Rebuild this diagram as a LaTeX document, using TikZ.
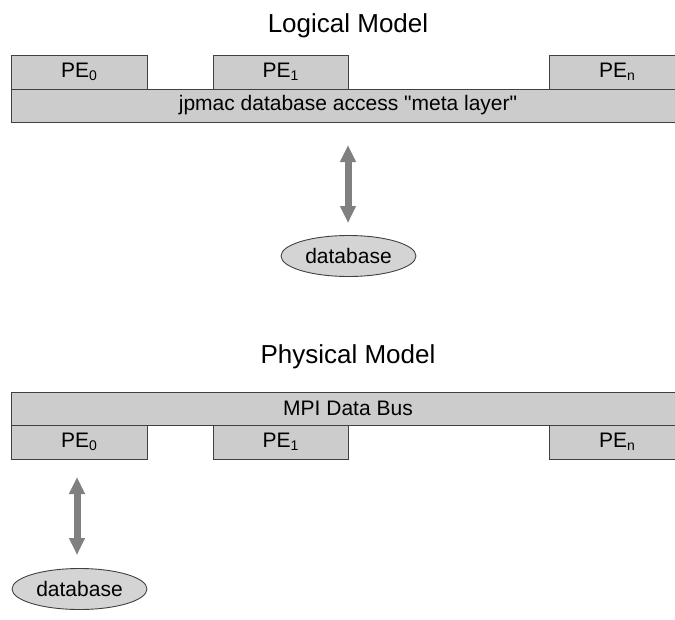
\documentclass[tikz,border=0pt]{standalone}
\usepackage{fontspec}
\setmainfont{Liberation Sans}
\usetikzlibrary{arrows.meta,shapes.geometric}
\newcommand{\pesub}[1]{PE\raisebox{-0.3ex}{\fontsize{14}{14}\selectfont #1}}
\tikzset{
  layer/.style={draw=black!75, fill=black!20, line width=0.9pt, inner sep=0pt, font=\fontsize{21}{21}\selectfont},
  dbnode/.style={ellipse, draw=black!75, fill=black!17, line width=0.9pt, minimum width=135pt, minimum height=41pt, inner sep=0pt, font=\fontsize{21}{21}\selectfont},
  title/.style={font=\fontsize{26}{26}\selectfont, anchor=base},
  dbarrow/.style={draw=black!50, line width=7pt, {Triangle[width=15pt,length=17pt]}-{Triangle[width=15pt,length=17pt]}}
}
\begin{document}
\begin{tikzpicture}[x=1pt,y=-1pt]
\useasboundingbox (0,0) rectangle (675,619);
% logical model: processing elements above the shared access layer
\node[title] (lt) at (348,32) {Logical Model};
\node[layer, minimum width=136pt, minimum height=34pt] (lpe0) at (79,72) {\pesub{0}};
\node[layer, minimum width=135pt, minimum height=34pt] (lpe1) at (280.5,72) {\pesub{1}};
\node[layer, minimum width=136pt, minimum height=34pt] (lpen) at (617,72) {\pesub{n}};
\node[layer, minimum width=674pt, minimum height=33pt] (meta) at (348,105.5) {jpmac database access \textquotedbl meta layer\textquotedbl};
\node[dbnode] (ldb) at (348.5,256) {database};
\coordinate (la) at (348,145);
\coordinate (lb) at (348,223);
\draw[dbarrow] (la) -- (lb);
% physical model: data bus above the processing elements
\node[title] (pt) at (348,363) {Physical Model};
\node[layer, minimum width=674pt, minimum height=33pt] (bus) at (348,408.5) {MPI Data Bus};
\node[layer, minimum width=136pt, minimum height=34pt] (ppe0) at (79,442) {\pesub{0}};
\node[layer, minimum width=135pt, minimum height=34pt] (ppe1) at (280.5,442) {\pesub{1}};
\node[layer, minimum width=136pt, minimum height=34pt] (ppen) at (617,442) {\pesub{n}};
\node[dbnode] (pdb) at (79.5,589) {database};
\coordinate (pa) at (77,477);
\coordinate (pb) at (77,555);
\draw[dbarrow] (pa) -- (pb);
\end{tikzpicture}
\end{document}
